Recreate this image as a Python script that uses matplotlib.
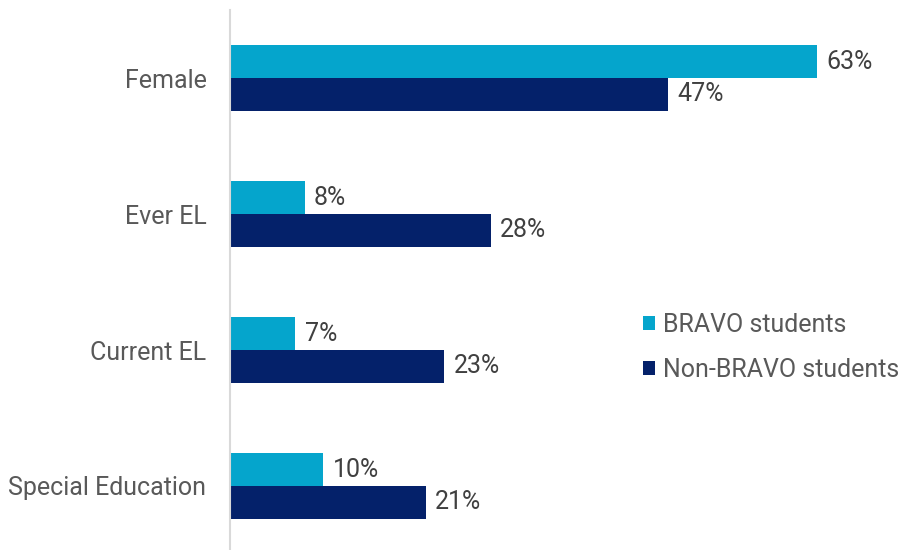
import matplotlib
matplotlib.use("Agg")
import matplotlib.pyplot as plt
import numpy as np

plt.rcParams['font.family'] = ['Roboto', 'DejaVu Sans']

categories = ["Female", "Ever EL", "Current EL", "Special Education"]
bravo = [63, 8, 7, 10]
non_bravo = [47, 28, 23, 21]
series_names = ["BRAVO students", "Non-BRAVO students"]

cyan = "#05A5CC"
navy = "#04216A"
label_gray = "#595959"
value_gray = "#404040"

fig = plt.figure(figsize=(9, 5.5), dpi=100)
ax = fig.add_axes([230 / 900, -4 / 550, 670 / 900, 544 / 550])

y = np.arange(len(categories))
h = 0.24
b1 = ax.barh(y - h / 2, bravo, height=h, color=cyan, label=series_names[0])
b2 = ax.barh(y + h / 2, non_bravo, height=h, color=navy, label=series_names[1])

for bars, vals in ((b1, bravo), (b2, non_bravo)):
    for bar, v in zip(bars, vals):
        ax.text(bar.get_width() + 1.0, bar.get_y() + bar.get_height() / 2,
                f"{v}%", va="center", ha="left", fontsize=18, color=value_gray)

ax.set_xlim(0, 670 / 9.32)
ax.set_ylim(3.5, -0.5)
ax.set_yticks(y)
ax.set_yticklabels(categories, fontsize=18, color=label_gray)
ax.tick_params(axis="y", length=0, pad=17)
ax.set_xticks([])
for s in ("top", "right", "bottom"):
    ax.spines[s].set_visible(False)
ax.spines["left"].set_color("#D9D9D9")
ax.spines["left"].set_linewidth(1.5)

leg = ax.legend(loc="center left", bbox_to_anchor=(0.616, 0.380),
                frameon=False, fontsize=18, handlelength=0.5, handleheight=0.5,
                handletextpad=0.3, labelspacing=0.85, borderpad=0,
                borderaxespad=0, labelcolor=label_gray)

fig.savefig("out.png", dpi=100)
